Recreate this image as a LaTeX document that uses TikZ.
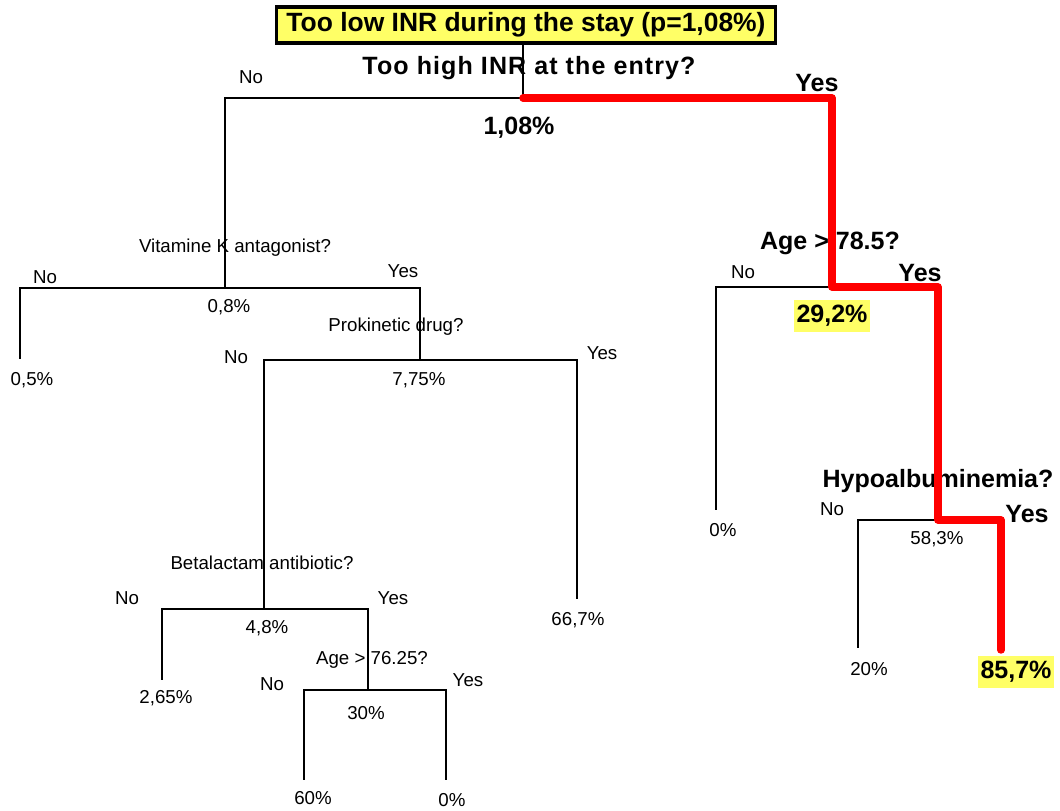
\documentclass[tikz,border=0pt]{standalone}
\usepackage{fontspec}
\setmainfont{Liberation Sans}
\usepackage{xcolor}
\usepackage{tikz}
\usetikzlibrary{positioning,calc}
\definecolor{TreeYellow}{HTML}{FFFF66}
\definecolor{TreeRed}{HTML}{FF0000}

\begin{document}
\begin{tikzpicture}[x=0.025cm, y=-0.025cm,
  branch/.style={draw=black, line width=1.8pt},
  path/.style={draw=TreeRed, line width=5.3pt, line join=round, line cap=round},
  lbl/.style={inner sep=0pt, font=\fontsize{13.3}{15}\selectfont},
  blbl/.style={inner sep=0pt, font=\fontsize{17.8}{20}\selectfont\bfseries},
  hilite/.style={blbl, fill=TreeYellow, inner xsep=1.5pt, inner ysep=3.5pt},
  titlebox/.style={draw=black, line width=2.2pt, fill=TreeYellow, minimum width=12.45cm, minimum height=0.9cm, inner sep=0pt, font=\fontsize{18.8}{21}\selectfont\bfseries}]

\useasboundingbox (0,0) rectangle (1060,810);

\node[titlebox] (title) at (526,25) {Too low INR during the stay (p=1,08\%)};

% split points and leaf ends
\coordinate (root) at (523,98);
\coordinate (vka) at (225,288);
\coordinate (leafA) at (20,359);
\coordinate (prok) at (420,360);
\coordinate (beta) at (264,609);
\coordinate (leafB) at (577,599);
\coordinate (leafC) at (162,680);
\coordinate (ageY) at (368,690);
\coordinate (leafD) at (304,780);
\coordinate (leafE) at (446,780);
\coordinate (ageO) at (832,287);
\coordinate (leafF) at (716,510);
\coordinate (hypo) at (938,520);
\coordinate (leafG) at (858,648);
\coordinate (leafH) at (1001,650);

\node[blbl] (qroot) at (529,68) {\addfontfeature{LetterSpace=4.4}Too high INR at the entry?};
\node[lbl] (noroot) at (251,77) {No};
\node[blbl] (yesroot) at (817,83) {Yes};
\node[blbl] (proot) at (519,128) {1,08\%};

\node[lbl] (qvka) at (235,248) {Vitamine K antagonist?};
\node[lbl] (novka) at (45,277) {No};
\node[lbl] (yesvka) at (403,271) {Yes};
\node[lbl] (pvka) at (229,307) {0,8\%};
\node[lbl] (pleafA) at (32,380) {0,5\%};

\node[lbl] (qprok) at (396,327) {Prokinetic drug?};
\node[lbl] (noprok) at (236,357) {No};
\node[lbl] (yesprok) at (602,353) {Yes};
\node[lbl] (pprok) at (419,380) {7,75\%};
\node[lbl] (pleafB) at (578,620) {66,7\%};

\node[lbl] (qbeta) at (262,563) {Betalactam antibiotic?};
\node[lbl] (nobeta) at (127,598) {No};
\node[lbl] (yesbeta) at (393,598) {Yes};
\node[lbl] (pbeta) at (267,628) {4,8\%};
\node[lbl] (pleafC) at (166,698) {2,65\%};

\node[lbl] (qageY) at (372,660) {Age > 76.25?};
\node[lbl] (noageY) at (272,684) {No};
\node[lbl] (yesageY) at (468,680) {Yes};
\node[lbl] (pageY) at (366,713) {30\%};
\node[lbl] (pleafD) at (313,798) {60\%};
\node[lbl] (pleafE) at (452,800) {0\%};

\node[blbl] (qageO) at (830,243) {Age > 78.5?};
\node[lbl] (noageO) at (743,272) {No};
\node[blbl] (yesageO) at (920,273) {Yes};
\node[hilite] (pageO) at (832,316) {29,2\%};
\node[lbl] (pleafF) at (723,530) {0\%};

\node[blbl] (qhypo) at (938,481) {Hypoalbuminemia?};
\node[lbl] (nohypo) at (832,509) {No};
\node[blbl] (yeshypo) at (1027,514) {Yes};
\node[lbl] (phypo) at (937,539) {58,3\%};
\node[lbl] (pleafG) at (869,669) {20\%};
\node[hilite] (pleafH) at (1016,672) {85,7\%};

\draw[branch] (title.south -| root) -- (root);
\draw[branch] (root) -| (vka);
\draw[branch] (vka) -| (leafA);
\draw[branch] (vka) -| (prok);
\draw[branch] (prok) -| (beta);
\draw[branch] (prok) -| (leafB);
\draw[branch] (beta) -| (leafC);
\draw[branch] (beta) -| (ageY);
\draw[branch] (ageY) -| (leafD);
\draw[branch] (ageY) -| (leafE);
\draw[branch] (ageO) -| (leafF);
\draw[branch] (hypo) -| (leafG);

\draw[path] (root) -| (ageO) -| (hypo) -| (leafH);
\end{tikzpicture}
\end{document}
